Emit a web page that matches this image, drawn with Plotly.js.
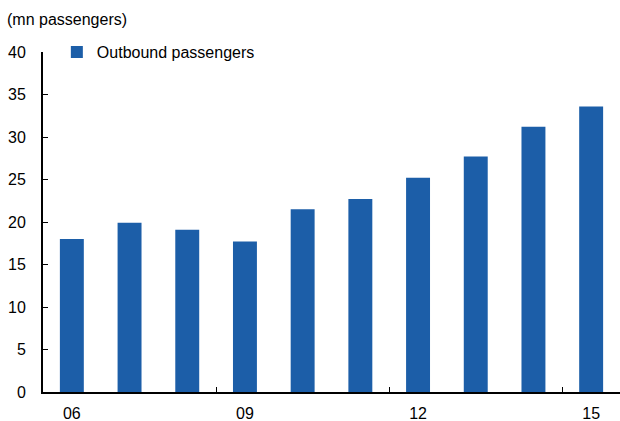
<!DOCTYPE html>
<html>
<head>
<meta charset="utf-8">
<script src="https://cdn.plot.ly/plotly-3.0.1.min.js"></script>
<style>
  html, body { margin: 0; padding: 0; background: #ffffff; }
  #chart { width: 620px; height: 421px; }
</style>
</head>
<body>
<div id="chart"></div>
<script>
// Outbound passengers per year, in millions
const years = ['06', '07', '08', '09', '10', '11', '12', '13', '14', '15'];
const outbound = [18.0, 19.9, 19.1, 17.7, 21.5, 22.7, 25.2, 27.7, 31.2, 33.6];
const seriesName = 'Outbound passengers';
const unitLabel = '(mn passengers)';
const shownYears = ['06', '09', '12', '15'];
const yTicks = [0, 5, 10, 15, 20, 25, 30, 35, 40];

const barColor = '#1c5ea8';
const font = { family: 'Liberation Sans, Arial, sans-serif', size: 16, color: '#000000' };

const xRange = [-0.5, 9.5];

const trace = {
  type: 'bar',
  x: years,
  y: outbound,
  name: seriesName,
  marker: { color: barColor, line: { width: 0 } },
  showlegend: true,
  hoverinfo: 'skip'
};

const layout = {
  width: 620,
  height: 421,
  margin: { l: 43, r: 0, t: 52, b: 29, pad: 0 },
  paper_bgcolor: '#ffffff',
  plot_bgcolor: '#ffffff',
  font: font,
  bargap: 0.585,
  showlegend: true,
  legend: {
    x: 0.024, y: 1.0, xanchor: 'left', yanchor: 'middle',
    bgcolor: 'rgba(0,0,0,0)',
    font: font,
    itemwidth: 30,
    tracegroupgap: 0
  },
  xaxis: {
    type: 'category',
    range: xRange,
    tickmode: 'array',
    tickvals: shownYears,
    ticktext: shownYears,
    ticks: '',
    showgrid: false,
    zeroline: false,
    showline: true,
    linecolor: '#000000',
    linewidth: 2,
    tickfont: font,
    ticklabelstandoff: 6,
    fixedrange: true
  },
  // tick marks between year groups
  xaxis2: {
    overlaying: 'x',
    type: 'linear',
    range: xRange,
    tickmode: 'array',
    tickvals: [2.5, 5.5, 8.5],
    ticks: 'inside',
    ticklen: 5,
    tickwidth: 1,
    tickcolor: '#000000',
    showticklabels: false,
    showgrid: false,
    zeroline: false,
    showline: false,
    side: 'bottom',
    anchor: 'y',
    fixedrange: true
  },
  yaxis: {
    range: [0, 40],
    tickmode: 'array',
    tickvals: yTicks,
    ticks: 'inside',
    ticklen: 5,
    tickwidth: 1,
    tickcolor: '#000000',
    showgrid: false,
    zeroline: false,
    showline: true,
    linecolor: '#000000',
    linewidth: 2,
    tickfont: font,
    ticklabelstandoff: 12,
    fixedrange: true
  },
  annotations: [{
    text: unitLabel,
    xref: 'paper', yref: 'paper',
    x: -43 / 577, y: 1,
    xanchor: 'left', yanchor: 'bottom',
    yshift: 22,
    xshift: 5,
    showarrow: false,
    font: font
  }]
};

// invisible helper trace so the second x axis is drawn
const helper = {
  type: 'scatter', x: [], y: [], xaxis: 'x2', yaxis: 'y',
  showlegend: false, hoverinfo: 'skip'
};

Plotly.newPlot('chart', [trace, helper], layout, { displayModeBar: false, staticPlot: true });
</script>
</body>
</html>
